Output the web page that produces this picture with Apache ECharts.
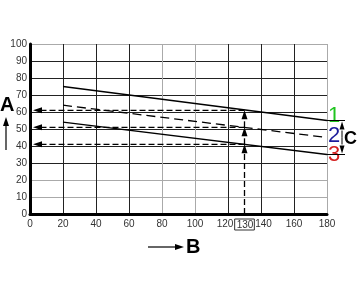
<!DOCTYPE html>
<html>
<head>
<meta charset="utf-8">
<script src="https://cdn.jsdelivr.net/npm/echarts@6/dist/echarts.min.js"></script>
<style>
  html, body { margin: 0; padding: 0; background: #fff; }
  #chart { width: 360px; height: 290px; }
</style>
</head>
<body>
<div id="chart"></div>
<script>
// line end points (x) and their values
const xEnds = [20, 180];
const line1 = [75, 55];
const line2 = [64, 45];
const line3 = [54, 35];
const lineNames = ["1", "2", "3"];
const lineColors = ["#1fc41f", "#1a1a9a", "#d42020"];

// reading at B = 130
const readX = 130;
const readValues = [61, 51, 41];

// x tick labels (130 gets a box)
const xTicks = [0, 20, 40, 60, 80, 100, 120, 130, 140, 160, 180];

const font = "Liberation Sans";
const dark = "#222";
const light = "#aaa";

// dashed arrows: [x1, y1, x2, y2], head at (x2, y2)
const readArrows = [];
readValues.forEach((v) => readArrows.push([readX, v, 0, v]));
const upStops = [0].concat(readValues.slice().reverse());
for (let i = 0; i < upStops.length - 1; i++) {
  readArrows.push([readX, upStops[i], readX, upStops[i + 1]]);
}

function arrowItem(a, b, dash) {
  const dx = b[0] - a[0];
  const dy = b[1] - a[1];
  const len = Math.sqrt(dx * dx + dy * dy);
  const ux = dx / len;
  const uy = dy / len;
  const headLen = 9;
  const headW = 3;
  const base = [b[0] - ux * headLen, b[1] - uy * headLen];
  return {
    type: "group",
    children: [
      {
        type: "line",
        shape: { x1: a[0], y1: a[1], x2: base[0], y2: base[1] },
        style: { stroke: "#000", lineWidth: 1.3, lineDash: dash }
      },
      {
        type: "polygon",
        shape: {
          points: [
            b,
            [base[0] - uy * headW, base[1] + ux * headW],
            [base[0] + uy * headW, base[1] - ux * headW]
          ]
        },
        style: { fill: "#000" }
      }
    ]
  };
}

function lineSeries(vals, idx, dashed, offset) {
  return {
    type: "line",
    data: xEnds.map((x, i) => [x, vals[i]]),
    showSymbol: false,
    silent: true,
    lineStyle: { color: "#000", width: 1.3, type: dashed ? [9, 5] : "solid" },
    endLabel: {
      show: true,
      formatter: lineNames[idx],
      color: lineColors[idx],
      fontSize: 22,
      fontFamily: font,
      distance: 0,
      offset: offset
    },
    z: 3
  };
}

const chart = echarts.init(document.getElementById("chart"));
chart.setOption({
  animation: false,
  backgroundColor: "#fff",
  grid: { left: 30, right: 33, top: 44, bottom: 76 },
  xAxis: {
    type: "value",
    min: 0,
    max: 180,
    interval: 20,
    axisLine: { lineStyle: { color: "#000", width: 3 } },
    axisTick: { show: false },
    splitLine: {
      lineStyle: {
        color: [dark, dark, dark, dark, light, light, dark, dark, dark, light],
        width: 1
      }
    },
    axisLabel: {
      customValues: xTicks,
      margin: 5,
      fontSize: 10,
      fontFamily: font,
      color: "#333",
      formatter: function (v) {
        if (v === readX) return "{box|" + v + "}";
        if (v === 120) return "{l|" + v + "}";
        if (v === 140) return "{r|" + v + "}";
        return String(v);
      },
      rich: {
        box: { borderColor: "#333", borderWidth: 1, padding: [1, 1, 0, 2], fontSize: 10, color: "#333" },
        l: { padding: [0, 6, 0, 0], fontSize: 10, color: "#333" },
        r: { padding: [0, 0, 0, 5], fontSize: 10, color: "#333" }
      }
    }
  },
  yAxis: {
    type: "value",
    min: 0,
    max: 100,
    interval: 10,
    axisLine: { show: true, lineStyle: { color: "#000", width: 3 } },
    axisTick: { show: false },
    splitLine: {
      lineStyle: {
        color: [dark, light, light, dark, dark, dark, dark, dark, dark, dark, light],
        width: 1
      }
    },
    axisLabel: { margin: 3, fontSize: 10, fontFamily: font, color: "#333" }
  },
  series: [
    lineSeries(line1, 0, false, [1, -5]),
    lineSeries(line2, 1, true, [1, -2]),
    lineSeries(line3, 2, false, [1, 0]),
    {
      type: "custom",
      coordinateSystem: "cartesian2d",
      data: readArrows,
      encode: { x: [0, 2], y: [1, 3] },
      clip: false,
      silent: true,
      z: 4,
      renderItem: function (params, api) {
        const a = api.coord([api.value(0), api.value(1)]);
        const b = api.coord([api.value(2), api.value(3)]);
        if (a[1] === b[1]) b[0] += 3; // stop at the axis line
        return arrowItem(a, b, [6, 3]);
      }
    },
    {
      // C bracket between line 1 and line 3 at the right end
      type: "custom",
      coordinateSystem: "cartesian2d",
      data: [[xEnds[1], line1[1], line3[1]]],
      encode: { x: 0, y: [1, 2] },
      clip: false,
      silent: true,
      z: 4,
      renderItem: function (params, api) {
        const top = api.coord([api.value(0), api.value(1)]);
        const bot = api.coord([api.value(0), api.value(2)]);
        const ax = top[0] + 15;
        const mid = [ax, (top[1] + bot[1]) / 2];
        const up = arrowItem(mid, [ax, top[1] + 1], null);
        const down = arrowItem(mid, [ax, bot[1] - 1], null);
        up.children[0].style.lineWidth = 1;
        down.children[0].style.lineWidth = 1;
        up.children[1].shape.points = [[ax, top[1] + 1], [ax - 2.5, top[1] + 9], [ax + 2.5, top[1] + 9]];
        down.children[1].shape.points = [[ax, bot[1] - 1], [ax - 2.5, bot[1] - 9], [ax + 2.5, bot[1] - 9]];
        return {
          type: "group",
          children: [
            { type: "line", shape: { x1: top[0], y1: top[1], x2: ax + 3, y2: top[1] }, style: { stroke: "#000", lineWidth: 1 } },
            { type: "line", shape: { x1: top[0], y1: bot[1], x2: ax + 3, y2: bot[1] }, style: { stroke: "#000", lineWidth: 1 } },
            up,
            down
          ]
        };
      }
    }
  ],
  graphic: [
    { type: "text", left: 0, top: 95, style: { text: "A", font: "bold 20px " + font, fill: "#000" } },
    { type: "line", shape: { x1: 6, y1: 150, x2: 6, y2: 124 }, style: { stroke: "#000", lineWidth: 1.2 } },
    { type: "polygon", shape: { points: [[6, 117], [3, 126], [9, 126]] }, style: { fill: "#000" } },
    { type: "text", left: 186, top: 237, style: { text: "B", font: "bold 20px " + font, fill: "#000" } },
    { type: "line", shape: { x1: 148, y1: 247, x2: 176, y2: 247 }, style: { stroke: "#000", lineWidth: 1.2 } },
    { type: "polygon", shape: { points: [[184, 247], [175, 244], [175, 250]] }, style: { fill: "#000" } },
    { type: "text", left: 344, top: 130, style: { text: "C", font: "bold 18px " + font, fill: "#000" } }
  ]
});
</script>
</body>
</html>
